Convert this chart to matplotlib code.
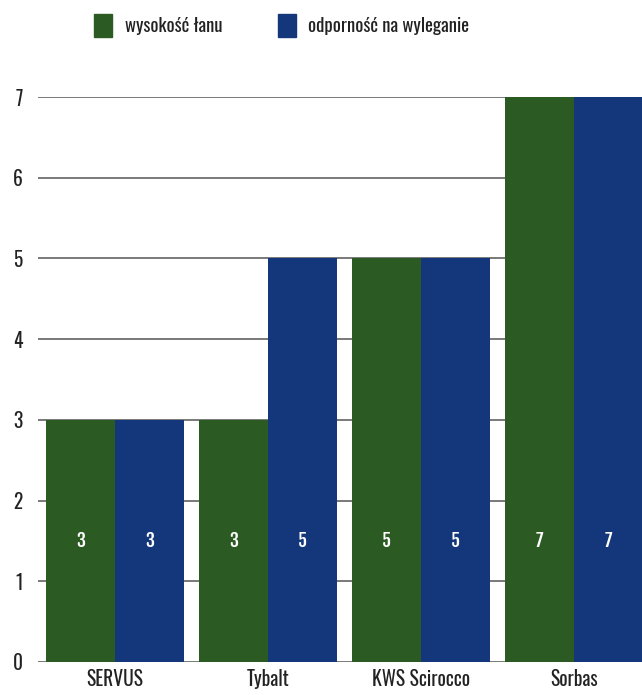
import numpy as np
import matplotlib
matplotlib.use('Agg')
import matplotlib.pyplot as plt
from matplotlib.patches import Rectangle

# --- data ---
varieties = ['SERVUS', 'Tybalt', 'KWS Scirocco', 'Sorbas']
height = [3, 3, 5, 7]        # wysokość łanu
lodging = [3, 5, 5, 7]       # odporność na wyleganie
series_names = ['wysokość łanu', 'odporność na wyleganie']
colors = ['#2b5a23', '#14377b']

plt.rcParams['font.family'] = ['Oswald', 'DejaVu Sans']
plt.rcParams['font.weight'] = 300
W, H = 642, 695

fig = plt.figure(figsize=(W / 100, H / 100), dpi=100)
ax = fig.add_axes([38 / W, 1 - 662 / H, 1 - 38 / W, (662 - 97) / H])

x = np.arange(len(varieties))
w = 0.448
b1 = ax.bar(x - w / 2, height, width=w, color=colors[0], zorder=2)
b2 = ax.bar(x + w / 2, lodging, width=w, color=colors[1], zorder=2)

# bold value labels (Fjalla One is a heavy condensed face)
for bars, vals in ((b1, height), (b2, lodging)):
    for bar, v in zip(bars, vals):
        ax.text(bar.get_x() + bar.get_width() / 2, 1.5, str(v), ha='center', va='center',
                color='white', fontsize=13, family=['Fjalla One', 'Oswald', 'DejaVu Sans'],
                zorder=3)

ax.set_xlim(-0.503, 3.444)
ax.set_ylim(0, 7)
ax.set_yticks(range(0, 8))
ax.yaxis.grid(True, color='#555555', linewidth=1.1, zorder=1)
ax.set_axisbelow(True)
ax.set_xticks(x)
ax.set_xticklabels(varieties)
ax.tick_params(axis='both', length=0, labelsize=14, colors='#222222')
ax.tick_params(axis='x', pad=5)
ax.tick_params(axis='y', pad=11)
for s in ax.spines.values():
    s.set_visible(False)

# legend drawn by hand at the reference positions
legend_x = [(94, 125), (278, 308)]
for (sx, tx), c, name in zip(legend_x, colors, series_names):
    fig.patches.append(Rectangle((sx / W, 1 - 37 / H), 18 / W, 23 / H,
                                 transform=fig.transFigure, color=c))
    fig.text(tx / W, 1 - 26 / H, name, ha='left', va='center', fontsize=13.5, color='#222222')

fig.savefig('out.png', dpi=100)
